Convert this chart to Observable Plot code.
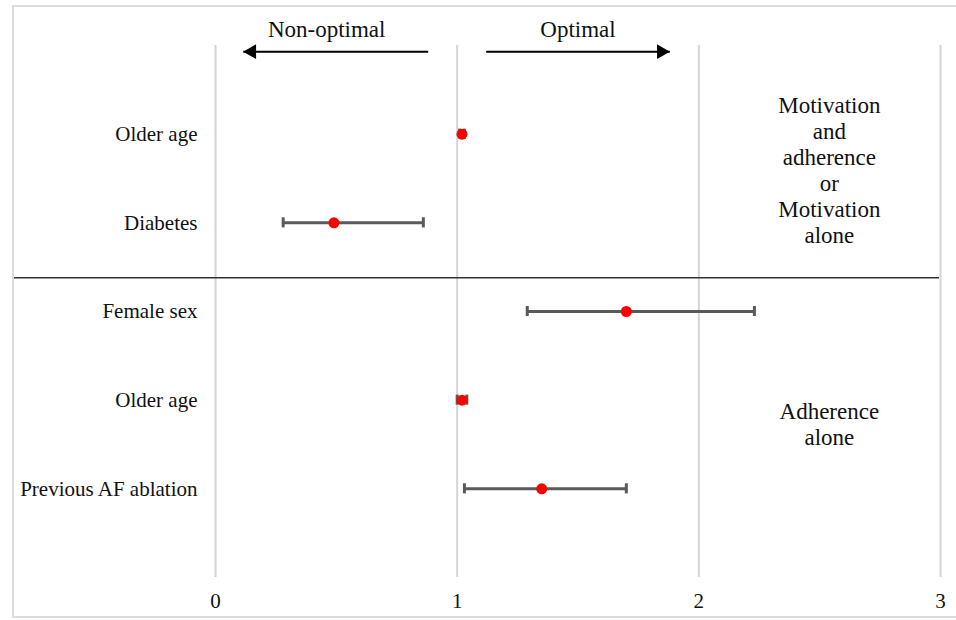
<!DOCTYPE html>
<html>
<head>
<meta charset="utf-8">
<script src="https://cdn.jsdelivr.net/npm/d3@7"></script>
<script src="https://cdn.jsdelivr.net/npm/@observablehq/plot@0.6"></script>
<style>
  html, body { margin: 0; padding: 0; background: #fff; }
  #wrap { position: relative; width: 956px; height: 620px; overflow: hidden; }
  #border { position: absolute; left: 12px; top: 5px; width: 960px; height: 613px; border: 2px solid #dcdcdc; box-sizing: border-box; pointer-events: none; }
  #chart svg, #chart svg text { font-family: "Liberation Serif", "DejaVu Serif", serif !important; }
</style>
</head>
<body>
<div id="wrap"><div id="chart"></div><div id="border"></div></div>
<script>
// Rows (top to bottom)
const rowLabels = ["Older age", "Diabetes", "Female sex", "Older age", "Previous AF ablation"];
const rowPos = [5, 4, 3, 2, 1];
const estimates = [1.02, 0.49, 1.70, 1.02, 1.35];
const lower = [1.01, 0.28, 1.29, 1.00, 1.03];
const upper = [1.03, 0.86, 2.23, 1.04, 1.70];

// Axis ticks
const xTicks = [0, 1, 2, 3];

// Group annotations (right side)
const groupLabels = ["Motivation\nand\nadherence\nor\nMotivation\nalone", "Adherence\nalone"];
const groupPos = [4.6, 1.74];
const groupX = 2.54;
const dividerAt = 3.38;

// Direction arrows (top)
const directionLabels = ["Non-optimal", "Optimal"];
const arrowFrom = [0.88, 1.12];
const arrowTo = [0.115, 1.88];
const directionLabelX = [0.46, 1.5];
const arrowY = 5.93;
const directionLabelY = 6.18;

const rows = rowLabels.map((label, i) => ({label, pos: rowPos[i], est: estimates[i], lo: lower[i], hi: upper[i]}));
const groups = groupLabels.map((label, i) => ({label, pos: groupPos[i]}));
const arrows = directionLabels.map((label, i) => ({label, from: arrowFrom[i], to: arrowTo[i], lx: directionLabelX[i]}));

const capHalf = 0.057;
const font = "Liberation Serif";

const chart = Plot.plot({
  width: 956,
  height: 620,
  marginLeft: 215,
  marginRight: 16,
  marginTop: 45,
  marginBottom: 43,
  style: {fontFamily: font, fontSize: "21px", color: "#111", background: "transparent"},
  x: {domain: [0, 3], ticks: xTicks, tickSize: 0, tickPadding: 16, label: null, tickFormat: d => String(d)},
  y: {domain: [0, 6], axis: null},
  marks: [
    Plot.ruleX(xTicks, {stroke: "#d4d4d4", strokeWidth: 2}),
    Plot.ruleY([dividerAt], {stroke: "#333", strokeWidth: 1.6, insetLeft: -203, insetRight: 1}),
    // arrows
    Plot.link(arrows, {x1: "from", x2: "to", y1: arrowY, y2: arrowY, stroke: "#000", strokeWidth: 2}),
    Plot.dot([arrows[0]], {x: "to", y: arrowY, symbol: "triangle", r: 5.5, fill: "#000", stroke: "none", rotate: -90, dx: 8.5}),
    Plot.dot([arrows[1]], {x: "to", y: arrowY, symbol: "triangle", r: 5.5, fill: "#000", stroke: "none", rotate: 90, dx: -8.5}),
    Plot.text(arrows, {x: "lx", y: directionLabelY, text: "label", fontSize: 23, fontFamily: font, fill: "#111"}),
    // error bars
    Plot.ruleY(rows, {x1: "lo", x2: "hi", y: "pos", stroke: "#5a5a5a", strokeWidth: 3}),
    Plot.ruleX(rows, {x: "lo", y1: d => d.pos - capHalf, y2: d => d.pos + capHalf, stroke: "#5a5a5a", strokeWidth: 3}),
    Plot.ruleX(rows, {x: "hi", y1: d => d.pos - capHalf, y2: d => d.pos + capHalf, stroke: "#5a5a5a", strokeWidth: 3}),
    Plot.dot(rows, {x: "est", y: "pos", r: 5.5, fill: "#ff0000", stroke: "none"}),
    // row labels
    Plot.text(rows, {x: 0, y: "pos", text: "label", textAnchor: "end", dx: -18, fontSize: 21, fontFamily: font, fill: "#111"}),
    // group labels
    Plot.text(groups, {x: groupX, y: "pos", text: "label", lineHeight: 1.13, fontSize: 23, fontFamily: font, fill: "#111"})
  ]
});
document.getElementById("chart").appendChild(chart);
</script>
</body>
</html>
